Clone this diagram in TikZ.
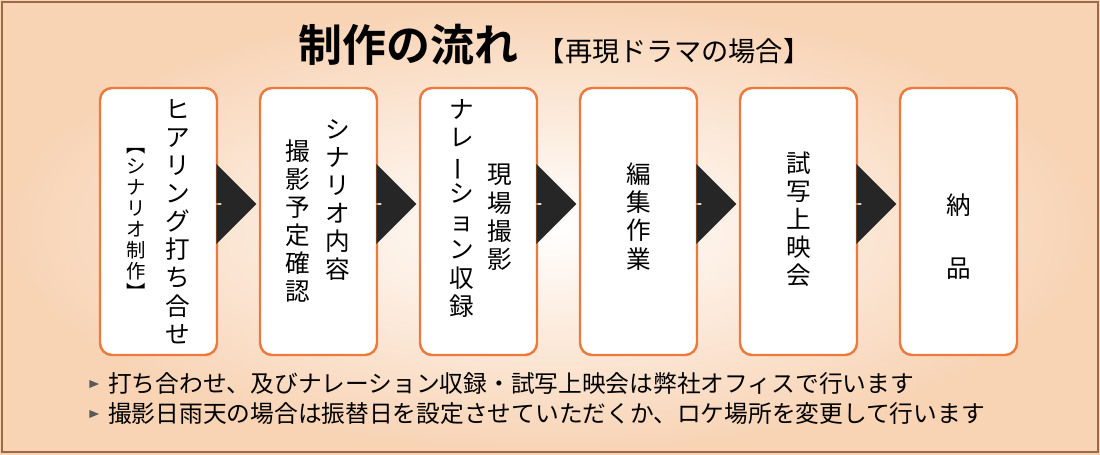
\documentclass[tikz,border=0pt]{standalone}
\usepackage{fontspec}
\setmainfont{Noto Sans CJK JP}
\newfontfamily\titlefont{Noto Sans CJK JP Bold}
\usetikzlibrary{positioning,calc,shapes.arrows,shapes.geometric}
\definecolor{boxline}{HTML}{EC7A3C}
\definecolor{bgpeach}{HTML}{F8D3B4}
\definecolor{framebrown}{HTML}{9C6A48}

\tikzset{
  stepbox/.style={draw=boxline,line width=1.4pt,fill=white,rounded corners=0.24cm,
    minimum width=2.34cm,minimum height=5.34cm},
  vcol/.style={align=center,font=\fontsize{14pt}{16pt}\selectfont,inner sep=0pt},
  vsmall/.style={align=center,font=\fontsize{11pt}{12pt}\selectfont,inner sep=0pt},
  flowarrow/.style={single arrow,fill=black!85,draw=none,minimum height=0.7cm,
    minimum width=1.6cm,single arrow head extend=0.3cm,inner sep=0pt},
  bullet/.style={isosceles triangle,fill=black!65,draw=none,minimum width=0.16cm,
    minimum height=0.16cm,inner sep=0pt},
  note/.style={anchor=west,font=\fontsize{13.5pt}{15pt}\selectfont,inner sep=0pt}
}

\begin{document}
\begin{tikzpicture}
  \useasboundingbox (0,0) rectangle (22,9.08);
  \shade[inner color=white,outer color=bgpeach] (0,0) rectangle (22,9.08);
  \draw[framebrown,line width=0.8pt] (0.04,0.04) rectangle (21.96,9.04);

  % title
  \node[font=\titlefont\fontsize{25pt}{27pt}\selectfont,inner sep=0pt] (title) at (8.17,8.18) {制作の流れ};
  \node[font=\fontsize{15.5pt}{17pt}\selectfont,anchor=west,inner sep=0pt] (subtitle) at (10.75,8.06) {【再現ドラマの場合】};

  % boxes
  \node[stepbox] (s1) at (3.17,4.65) {};
  \node[stepbox] (s2) at (6.37,4.65) {};
  \node[stepbox] (s3) at (9.57,4.65) {};
  \node[stepbox] (s4) at (12.77,4.65) {};
  \node[stepbox] (s5) at (15.97,4.65) {};
  \node[stepbox] (s6) at (19.17,4.65) {};

  % arrows
  \foreach \a/\b in {s1/s2,s2/s3,s3/s4,s4/s5,s5/s6}
    \node[flowarrow] at ($(\a.east)!0.5!(\b.west)+(0,0.35)$) {};

  % box texts
  \node[vcol] (t1a) at (3.55,4.65) {ヒ\\ア\\リ\\ン\\グ\\打\\ち\\合\\せ};
  \node[vsmall] (t1b) at (2.72,4.6) {︻\\シ\\ナ\\リ\\オ\\制\\作\\︼};
  \node[vcol,anchor=north] (t2a) at (6.76,6.7) {シ\\ナ\\リ\\オ\\内\\容};
  \node[vcol,anchor=north] (t2b) at (5.96,6.3) {撮\\影\\予\\定\\確\\認};
  \node[vcol,anchor=north] (t3a) at (10.0,5.8) {現\\場\\撮\\影};
  \node[vcol,anchor=north] (t3b) at (9.24,7.1) {ナ\\レ\\\rotatebox[origin=c]{90}{ー}\\シ\\ョ\\ン\\収\\録};
  \node[vcol] (t4) at (12.77,4.75) {編\\集\\作\\業};
  \node[vcol] (t5) at (15.97,4.7) {試\\写\\上\\映\\会};
  \node[vcol] (t6) at (19.17,4.35) {納\\[0.7cm]品};

  % notes
  \node[bullet] (b1) at (1.84,1.4) {};
  \node[note,right=0.16cm of b1] (n1) {打ち合わせ、及びナレーション収録・試写上映会は弊社オフィスで行います};
  \node[bullet] (b2) at (1.84,0.8) {};
  \node[note,right=0.16cm of b2] (n2) {撮影日雨天の場合は振替日を設定させていただくか、ロケ場所を変更して行います};
\end{tikzpicture}
\end{document}
